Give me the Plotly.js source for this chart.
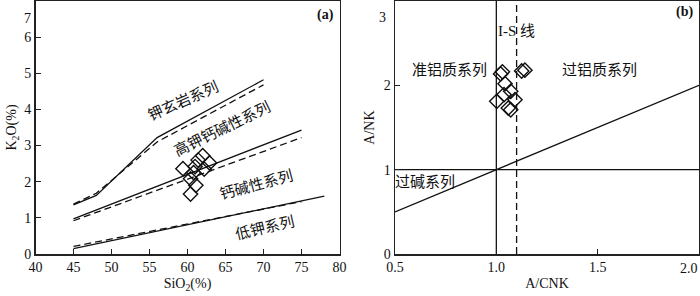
<!DOCTYPE html>
<html>
<head>
<meta charset="utf-8">
<script src="https://cdn.plot.ly/plotly-3.0.1.min.js"></script>
<style>html,body{margin:0;padding:0;background:#fff;}#chart{width:700px;height:296px;}</style>
</head>
<body>
<div id="chart"></div>
<script>
// Panel (a): SiO2 vs K2O
const sio2 = [59.4, 60.4, 61.1, 60.4, 60.8, 61.4, 62.0, 62.9, 62.2, 61.0];
const k2o  = [2.36, 1.66, 1.90, 2.08, 2.25, 2.60, 2.72, 2.52, 2.35, 2.42];
// boundary lines (solid and dashed)
const shoSolidX = [45, 48, 56, 70];
const shoSolidY = [1.36, 1.62, 3.22, 4.82];
const shoDashX = [45, 48, 56, 70];
const shoDashY = [1.38, 1.68, 3.10, 4.68];
const hkSolidX = [45, 75];
const hkSolidY = [0.97, 3.43];
const hkDashX = [45, 75];
const hkDashY = [0.92, 3.22];
const lkSolidX = [45, 78];
const lkSolidY = [0.15, 1.60];
const lkDashX = [45, 75];
const lkDashY = [0.21, 1.45];
const xTicksA = [40, 45, 50, 55, 60, 65, 70, 75, 80];
const yTicksA = [0, 1, 2, 3, 4, 5, 6];

// Panel (b): A/CNK vs A/NK
const acnk = [1.021, 1.030, 1.043, 1.125, 1.141, 1.002, 1.038, 1.071, 1.092, 1.059, 1.071];
const anka = [2.135, 2.160, 2.02, 2.17, 2.18, 1.81, 1.89, 1.93, 1.83, 1.73, 1.71];
const xTicksB = [0.5, 1.0, 1.5];
const yTicksB = [0, 1, 2];

const font = "'Liberation Serif', 'Noto Sans CJK SC', serif";
const lineStyle = {color: '#111', width: 1.3};
const dashStyle = {color: '#111', width: 1.3, dash: '7px,4px'};

function ln(x, y, style, xa, ya) {
  return {x: x, y: y, mode: 'lines', line: style, xaxis: xa, yaxis: ya, hoverinfo: 'skip', showlegend: false};
}

const traces = [
  ln(shoSolidX, shoSolidY, lineStyle, 'x', 'y'),
  ln(shoDashX, shoDashY, dashStyle, 'x', 'y'),
  ln(hkSolidX, hkSolidY, lineStyle, 'x', 'y'),
  ln(hkDashX, hkDashY, dashStyle, 'x', 'y'),
  ln(lkSolidX, lkSolidY, lineStyle, 'x', 'y'),
  ln(lkDashX, lkDashY, dashStyle, 'x', 'y'),
  {x: sio2, y: k2o, mode: 'markers', xaxis: 'x', yaxis: 'y', showlegend: false,
   marker: {symbol: 'diamond-open', size: 11, color: '#111', line: {width: 1.4, color: '#111'}}},
  // panel b lines
  ln([1.0, 1.0], [0, 3], lineStyle, 'x2', 'y2'),
  ln([1.1, 1.1], [0, 3], dashStyle, 'x2', 'y2'),
  ln([0.5, 2.0], [1, 1], lineStyle, 'x2', 'y2'),
  ln([0.5, 2.0], [0.5, 2.0], lineStyle, 'x2', 'y2'),
  {x: acnk, y: anka, mode: 'markers', xaxis: 'x2', yaxis: 'y2', showlegend: false,
   marker: {symbol: 'diamond-open', size: 11, color: '#111', line: {width: 1.4, color: '#111'}}}
];

const tickFont = {family: font, size: 14, color: '#111'};
const axBase = {
  showline: true, mirror: true, linecolor: '#222', linewidth: 1.5,
  ticks: 'inside', ticklen: 5, tickwidth: 1, tickcolor: '#222',
  showgrid: false, zeroline: false, tickmode: 'array',
  tickfont: tickFont
};
const titleFont = {family: font, size: 14, color: '#111'};

const layout = {
  width: 700, height: 296,
  margin: {l: 0, r: 0, t: 1, b: 42},
  paper_bgcolor: '#fff', plot_bgcolor: '#fff',
  font: {family: font, color: '#111'},
  showlegend: false,
  xaxis: Object.assign({}, axBase, {domain: [35.5/700, 339.5/700], range: [40, 80], tickvals: xTicksA,
    title: {text: 'SiO<sub>2</sub>(%)', font: titleFont, standoff: 4}, anchor: 'y'}),
  yaxis: Object.assign({}, axBase, {domain: [0, 1], range: [0, 7], tickvals: yTicksA,
    title: {text: 'K<sub>2</sub>O(%)', font: titleFont, standoff: 4}, anchor: 'x'}),
  xaxis2: Object.assign({}, axBase, {domain: [395/700, 699/700], range: [0.5, 2.0], tickvals: xTicksB, tickformat: '.1f',
    title: {text: 'A/CNK', font: titleFont, standoff: 4}, anchor: 'y2'}),
  yaxis2: Object.assign({}, axBase, {domain: [0, 1], range: [0, 3], tickvals: yTicksB,
    title: {text: 'A/NK', font: titleFont, standoff: 6}, anchor: 'x2'}),
  annotations: [
    // edge tick labels that would otherwise be clipped by the page edge
    {text: '7', x: 21.7/700, y: (254-9)/253, xref: 'paper', yref: 'paper', showarrow: false, font: tickFont},
    {text: '3', x: 382/700, y: (254-8)/253, xref: 'paper', yref: 'paper', showarrow: false, font: tickFont},
    {text: '2.0', x: 700/700, y: (254-268)/253, xref: 'paper', yref: 'paper', xanchor: 'right', yanchor: 'middle', showarrow: false, font: tickFont},
    {text: '<b>(a)</b>', x: 78.1, y: 6.62, xref: 'x', yref: 'y', showarrow: false, font: {size: 14, family: font}},
    {text: '钾玄岩系列', x: 59.5, y: 4.22, xref: 'x', yref: 'y', textangle: -24, showarrow: false, font: {size: 15}},
    {text: '高钾钙碱性系列', x: 64.6, y: 3.45, xref: 'x', yref: 'y', textangle: -26, showarrow: false, font: {size: 15}},
    {text: '钙碱性系列', x: 69.1, y: 1.9, xref: 'x', yref: 'y', textangle: -15, showarrow: false, font: {size: 15}},
    {text: '低钾系列', x: 70.2, y: 0.71, xref: 'x', yref: 'y', textangle: -13, showarrow: false, font: {size: 15}},
    {text: '<b>(b)</b>', x: 1.93, y: 2.87, xref: 'x2', yref: 'y2', showarrow: false, font: {size: 14, family: font}},
    {text: 'I-S 线', x: 1.10, y: 2.64, xref: 'x2', yref: 'y2', showarrow: false, font: {size: 15}},
    {text: '准铝质系列', x: 0.77, y: 2.18, xref: 'x2', yref: 'y2', showarrow: false, font: {size: 15}},
    {text: '过铝质系列', x: 1.51, y: 2.18, xref: 'x2', yref: 'y2', showarrow: false, font: {size: 15}},
    {text: '过碱系列', x: 0.648, y: 0.85, xref: 'x2', yref: 'y2', showarrow: false, font: {size: 15}}
  ]
};

Plotly.newPlot('chart', traces, layout, {displayModeBar: false, staticPlot: true});
</script>
</body>
</html>
